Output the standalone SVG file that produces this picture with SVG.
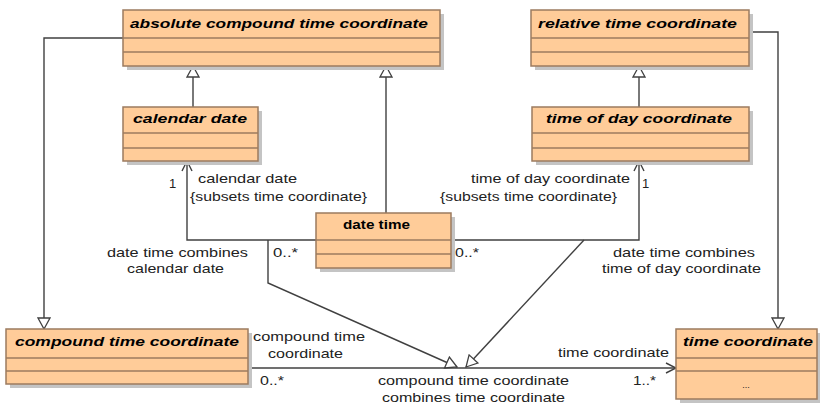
<svg xmlns="http://www.w3.org/2000/svg" width="820" height="407" viewBox="0 0 820 407">
<style>
.sh{fill:#c4c4c4}
.bx{fill:#ffcc99;stroke:#9c7b5f;stroke-width:1.5}
.dv{stroke:#9c7b5f;stroke-width:1.5}
.t{font-family:"Liberation Sans",Arial,sans-serif;font-size:13px;font-weight:bold;font-style:italic;fill:#000}
.tn{font-family:"Liberation Sans",Arial,sans-serif;font-size:13px;font-weight:bold;fill:#000}
.l{font-family:"Liberation Sans",Arial,sans-serif;font-size:13px;fill:#222}
.c{fill:none;stroke:#404040;stroke-width:1.4}
.g{fill:#fff;stroke:#404040;stroke-width:1.4}
</style>
<defs>
<marker id="open" viewBox="0 0 12 12" refX="11" refY="6" markerWidth="12" markerHeight="12" markerUnits="userSpaceOnUse" orient="auto">
<path d="M1,1 L11,6 L1,11" fill="none" stroke="#404040" stroke-width="1.4"/>
</marker>
<marker id="gen" viewBox="0 0 14 14" refX="13" refY="7" markerWidth="14" markerHeight="14" markerUnits="userSpaceOnUse" orient="auto">
<path d="M13,7 L2,1 L2,13 Z" fill="#fff" stroke="#404040" stroke-width="1.3"/>
</marker>
</defs>

<g id="connectors">
<polyline class="c" points="123,38 44,38 44,329" marker-end="url(#gen)"/>
<line class="c" x1="193" y1="107" x2="193" y2="66" marker-end="url(#gen)"/>
<line class="c" x1="386" y1="213" x2="386" y2="66" marker-end="url(#gen)"/>
<line class="c" x1="639" y1="107" x2="639" y2="66" marker-end="url(#gen)"/>
<polyline class="c" points="749,32 778,32 778,329" marker-end="url(#gen)"/>
<polyline class="c" points="316,240 187,240 187,161" marker-end="url(#open)"/>
<polyline class="c" points="451,240 639,240 639,161" marker-end="url(#open)"/>
<line class="c" x1="248" y1="368" x2="676" y2="368" marker-end="url(#open)"/>
<polyline class="c" points="268,240 268,283 457,367" marker-end="url(#gen)"/>
<line class="c" x1="584" y1="240" x2="466" y2="367" marker-end="url(#gen)"/>
<text class="l" x="198" y="183" textLength="99" lengthAdjust="spacingAndGlyphs">calendar date</text>
<text class="l" x="190" y="201" textLength="177" lengthAdjust="spacingAndGlyphs">{subsets time coordinate}</text>
<text class="l" x="169" y="188">1</text>
<text class="l" x="471" y="183" textLength="159" lengthAdjust="spacingAndGlyphs">time of day coordinate</text>
<text class="l" x="440" y="201" textLength="177" lengthAdjust="spacingAndGlyphs">{subsets time coordinate}</text>
<text class="l" x="642" y="188">1</text>
<text class="l" x="107" y="257" textLength="141" lengthAdjust="spacingAndGlyphs">date time combines</text>
<text class="l" x="127" y="273" textLength="97" lengthAdjust="spacingAndGlyphs">calendar date</text>
<text class="l" x="273" y="257" textLength="25" lengthAdjust="spacingAndGlyphs">0..*</text>
<text class="l" x="455" y="257" textLength="24" lengthAdjust="spacingAndGlyphs">0..*</text>
<text class="l" x="613" y="257" textLength="142" lengthAdjust="spacingAndGlyphs">date time combines</text>
<text class="l" x="602" y="273" textLength="159" lengthAdjust="spacingAndGlyphs">time of day coordinate</text>
<text class="l" x="253" y="341" textLength="112" lengthAdjust="spacingAndGlyphs">compound time</text>
<text class="l" x="268" y="358" textLength="75" lengthAdjust="spacingAndGlyphs">coordinate</text>
<text class="l" x="260" y="385" textLength="24" lengthAdjust="spacingAndGlyphs">0..*</text>
<text class="l" x="378" y="385" textLength="191" lengthAdjust="spacingAndGlyphs">compound time coordinate</text>
<text class="l" x="382" y="402" textLength="183" lengthAdjust="spacingAndGlyphs">combines time coordinate</text>
<text class="l" x="558" y="357" textLength="111" lengthAdjust="spacingAndGlyphs">time coordinate</text>
<text class="l" x="633" y="385" textLength="23" lengthAdjust="spacingAndGlyphs">1..*</text>
</g>

<g id="absolute-compound-time-coordinate">
<rect class="sh" x="127" y="14" width="317" height="56"/>
<rect class="bx" x="123" y="10" width="317" height="56"/>
<line class="dv" x1="123" y1="38" x2="440" y2="38"/>
<line class="dv" x1="123" y1="52" x2="440" y2="52"/>
<text class="t" x="130" y="28" textLength="298" lengthAdjust="spacingAndGlyphs">absolute compound time coordinate</text>
</g>

<g id="relative-time-coordinate">
<rect class="sh" x="535" y="14" width="218" height="56"/>
<rect class="bx" x="531" y="10" width="218" height="56"/>
<line class="dv" x1="531" y1="38" x2="749" y2="38"/>
<line class="dv" x1="531" y1="52" x2="749" y2="52"/>
<text class="t" x="538" y="28" textLength="199" lengthAdjust="spacingAndGlyphs">relative time coordinate</text>
</g>

<g id="calendar-date">
<rect class="sh" x="127" y="111" width="135" height="54"/>
<rect class="bx" x="123" y="107" width="135" height="54"/>
<line class="dv" x1="123" y1="133" x2="258" y2="133"/>
<line class="dv" x1="123" y1="148" x2="258" y2="148"/>
<text class="t" x="133" y="123" textLength="114" lengthAdjust="spacingAndGlyphs">calendar date</text>
</g>

<g id="time-of-day-coordinate">
<rect class="sh" x="536" y="111" width="217" height="54"/>
<rect class="bx" x="532" y="107" width="217" height="54"/>
<line class="dv" x1="532" y1="133" x2="749" y2="133"/>
<line class="dv" x1="532" y1="148" x2="749" y2="148"/>
<text class="t" x="546" y="123" textLength="186" lengthAdjust="spacingAndGlyphs">time of day coordinate</text>
</g>

<g id="date-time">
<rect class="sh" x="320" y="217" width="135" height="55"/>
<rect class="bx" x="316" y="213" width="135" height="55"/>
<line class="dv" x1="316" y1="240" x2="451" y2="240"/>
<line class="dv" x1="316" y1="254" x2="451" y2="254"/>
<text class="tn" x="343" y="229" textLength="67" lengthAdjust="spacingAndGlyphs">date time</text>
</g>

<g id="compound-time-coordinate">
<rect class="sh" x="10" y="333" width="242" height="55"/>
<rect class="bx" x="6" y="329" width="242" height="55"/>
<line class="dv" x1="6" y1="358" x2="248" y2="358"/>
<line class="dv" x1="6" y1="371" x2="248" y2="371"/>
<text class="t" x="15" y="346" textLength="224" lengthAdjust="spacingAndGlyphs">compound time coordinate</text>
</g>

<g id="time-coordinate">
<rect class="sh" x="680" y="333" width="141" height="70"/>
<rect class="bx" x="676" y="329" width="141" height="70"/>
<line class="dv" x1="676" y1="358" x2="817" y2="358"/>
<line class="dv" x1="676" y1="371" x2="817" y2="371"/>
<text class="t" x="683" y="346" textLength="130" lengthAdjust="spacingAndGlyphs">time coordinate</text>
<text class="l" x="746" y="388" font-size="9" text-anchor="middle" style="font-size:9px">...</text>
</g>
</svg>
